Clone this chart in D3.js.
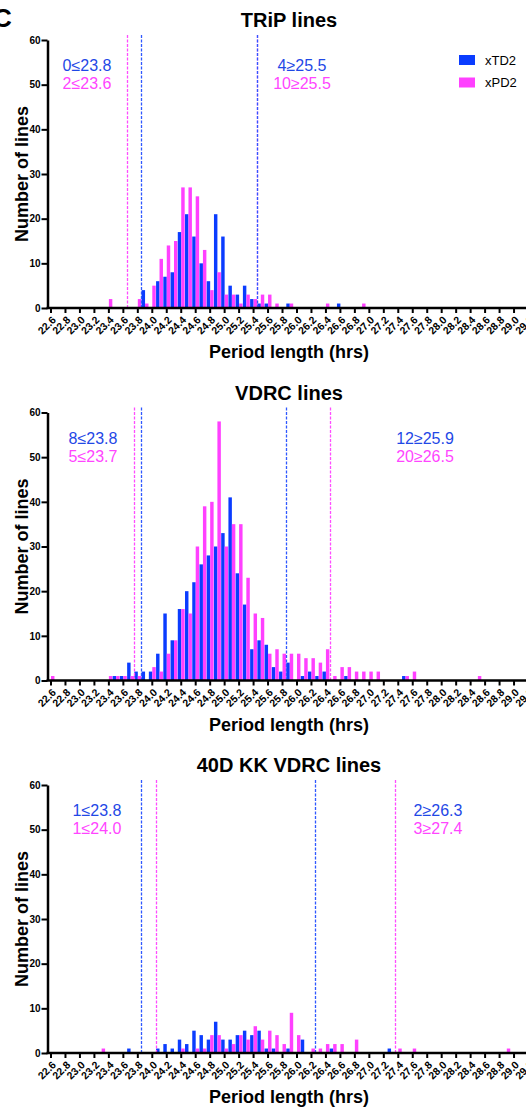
<!DOCTYPE html>
<html>
<head>
<meta charset="utf-8">
<script src="https://cdn.jsdelivr.net/npm/d3@7"></script>
<style>
  html, body { margin: 0; padding: 0; background: #fff; }
  svg { display: block; font-family: "Liberation Sans", Arial, Helvetica, sans-serif; }
</style>
</head>
<body>
<svg id="chart" width="526" height="1110"></svg>
<script>
// ---- DATA ----
const categories = ["22.6","22.7","22.8","22.9","23.0","23.1","23.2","23.3","23.4","23.5",
  "23.6","23.7","23.8","23.9","24.0","24.1","24.2","24.3","24.4","24.5",
  "24.6","24.7","24.8","24.9","25.0","25.1","25.2","25.3","25.4","25.5",
  "25.6","25.7","25.8","25.9","26.0","26.1","26.2","26.3","26.4","26.5",
  "26.6","26.7","26.8","26.9","27.0","27.1","27.2","27.3","27.4","27.5",
  "27.6","27.7","27.8","27.9","28.0","28.1","28.2","28.3","28.4","28.5",
  "28.6","28.7","28.8","28.9","29.0","29.1","29.2"];
const tickLabels = ["22.6","22.8","23.0","23.2","23.4","23.6","23.8","24.0","24.2","24.4",
  "24.6","24.8","25.0","25.2","25.4","25.6","25.8","26.0","26.2","26.4","26.6","26.8",
  "27.0","27.2","27.4","27.6","27.8","28.0","28.2","28.4","28.6","28.8","29.0","29.2"];
const yTicks = [0, 10, 20, 30, 40, 50, 60];
const seriesNames = ["xTD2", "xPD2"];
const panelTitles = ["TRiP lines", "VDRC lines", "40D KK VDRC lines"];

const tripTD2 = [0,0,0,0,0,0,0,0,0,0, 0,0,0,4,0,6,7,8,17,21, 16,10,6,21,16,5,3,5,2,1, 1,0,0,1,0,0,0,0,0,0, 1,0,0,0,0,0,0,0,0,0, 0,0,0,0,0,0,0,0,0,0, 0,0,0,0,0,0,0];
const tripPD2 = [0,0,0,0,0,0,0,0,2,0, 0,0,2,1,5,11,14,15,27,27, 25,13,4,8,3,3,1,3,2,3, 3,1,0,1,0,0,0,0,1,0, 0,0,0,1,0,0,0,0,0,0, 0,0,0,0,0,0,0,0,0,0, 0,0,0,0,0,0,0];
const vdrcTD2 = [0,0,0,0,0,0,0,0,0,1, 1,4,2,2,2,6,15,9,16,20, 22,26,28,30,33,41,24,17,7,9, 8,3,2,4,0,1,2,1,2,0, 0,1,0,0,0,0,0,0,0,1, 0,0,0,0,0,0,0,0,0,0, 0,0,0,0,0,0,0];
const vdrcPD2 = [1,0,0,0,0,0,0,0,1,1, 1,1,1,0,3,2,6,9,16,15, 30,39,40,58,30,35,35,23,15,14, 6,7,6,6,6,5,5,4,7,1, 3,3,2,2,2,2,0,0,0,1, 2,0,0,0,0,0,0,0,0,1, 0,0,0,0,0,0,0];
const kkTD2   = [0,0,0,0,0,0,0,0,0,0, 0,1,0,0,0,1,2,1,3,2, 5,4,3,7,3,3,4,5,4,5, 1,1,0,1,0,3,0,0,0,1, 0,0,0,0,0,0,0,1,0,0, 0,0,0,0,0,0,0,0,0,0, 0,0,0,0,0,0,0];
const kkPD2   = [0,0,0,0,0,0,0,1,0,0, 0,0,0,0,0,0,0,0,1,0, 1,1,4,4,1,2,4,3,6,3, 5,4,2,9,4,0,1,1,2,2, 2,0,3,0,0,0,0,0,1,0, 1,0,0,0,0,0,0,0,0,0, 0,0,0,1,0,0,0];

// cut-off line positions in hours: [xPD2 low, xTD2 low, xTD2 high, xPD2 high]
const tripCuts = [23.65, 23.85, 25.45, 25.45];
const vdrcCuts = [23.75, 23.85, 25.85, 26.45];
const kkCuts   = [24.05, 23.85, 26.25, 27.35];
const tripLabels = ["0≤23.8", "2≤23.6", "4≥25.5", "10≥25.5"];
const vdrcLabels = ["8≤23.8", "5≤23.7", "12≥25.9", "20≥26.5"];
const kkLabels   = ["1≤23.8", "1≤24.0", "2≥26.3", "3≥27.4"];

// ---- STYLE / LAYOUT ----
const BLUE = "#0a3cff", MAG = "#ff40ff";
const BLUE_TXT = "#1f48e6", MAG_TXT = "#ff45ff";
const BLUE_LINE = "#2f58ff", MAG_LINE = "#ff4dff";
const colors = { xTD2: BLUE, xPD2: MAG };

const panels = [
  { title: panelTitles[0], td: tripTD2, pd: tripPD2, cuts: tripCuts, labels: tripLabels, top: 40,    leftLX: 87,  rightLX: 302 },
  { title: panelTitles[1], td: vdrcTD2, pd: vdrcPD2, cuts: vdrcCuts, labels: vdrcLabels, top: 412.5, leftLX: 93,  rightLX: 425 },
  { title: panelTitles[2], td: kkTD2,   pd: kkPD2,   cuts: kkCuts,   labels: kkLabels,   top: 785,   leftLX: 97,  rightLX: 438 }
];
const plotH = 268;
const axisX = 47.5;
const firstCenter = 51, binW = 7.235;

const svg = d3.select("#chart");

// panel letter (partly outside the frame, as in the source figure)
svg.append("text").attr("x", -7).attr("y", 27)
  .attr("font-size", 26).attr("font-weight", "bold").text("C");

const x = d3.scaleBand().domain(categories)
  .range([firstCenter - binW / 2, firstCenter + (categories.length - 1) * binW + binW / 2])
  .padding(0);
const xs = d3.scaleBand().domain(seriesNames).range([0, x.bandwidth()]).paddingOuter(0.05).paddingInner(0);
const xl = d3.scaleLinear().domain([+categories[0], +categories[categories.length - 1]])
  .range([x(categories[0]) + x.bandwidth() / 2, x(categories[categories.length - 1]) + x.bandwidth() / 2]);

panels.forEach(p => {
  const y0 = p.top + plotH;
  const y = d3.scaleLinear().domain([0, 60]).range([y0, p.top]);
  const g = svg.append("g");

  g.append("text").attr("x", 289).attr("y", p.top - 13).attr("text-anchor", "middle")
    .attr("font-size", 20).attr("font-weight", "bold").text(p.title);

  const rows = categories.map((c, i) => ({ c, vals: [ { s: "xTD2", v: p.td[i] }, { s: "xPD2", v: p.pd[i] } ] }));
  const grp = g.append("g").selectAll("g").data(rows).join("g")
    .attr("transform", d => `translate(${x(d.c)},0)`);
  grp.selectAll("rect").data(d => d.vals.filter(v => v.v > 0)).join("rect")
    .attr("x", d => xs(d.s)).attr("width", xs.bandwidth())
    .attr("y", d => y(d.v)).attr("height", d => y0 - y(d.v))
    .attr("fill", d => colors[d.s]);

  const cutColors = [MAG_LINE, BLUE_LINE, BLUE_LINE, MAG_LINE];
  [0, 3, 1, 2].forEach(k => {
    const cx = Math.round(xl(p.cuts[k])) + 0.5;
    g.append("line")
      .attr("x1", cx).attr("x2", cx)
      .attr("y1", p.top - 5).attr("y2", y0)
      .attr("stroke", cutColors[k]).attr("stroke-width", 1.3)
      .attr("stroke-dasharray", "3,1.5");
  });

  const lab = [
    { t: p.labels[0], x: p.leftLX, dy: 31, c: BLUE_TXT },
    { t: p.labels[1], x: p.leftLX, dy: 49, c: MAG_TXT },
    { t: p.labels[2], x: p.rightLX, dy: 31, c: BLUE_TXT },
    { t: p.labels[3], x: p.rightLX, dy: 49, c: MAG_TXT }
  ];
  lab.forEach(l => {
    g.append("text").attr("x", l.x).attr("y", p.top + l.dy).attr("text-anchor", "middle")
      .attr("font-size", 16).attr("fill", l.c).text(l.t);
  });

  const ya = g.append("g").attr("transform", `translate(${axisX},0)`)
    .call(d3.axisLeft(y).tickValues(yTicks).tickSize(6).tickSizeOuter(0).tickPadding(1));
  ya.select(".domain").attr("stroke-width", 2.5);
  ya.selectAll(".tick line").attr("stroke-width", 2);
  ya.selectAll(".tick text").attr("font-size", 10).attr("font-weight", "bold")
    .attr("font-family", "Liberation Sans, Arial, sans-serif").attr("fill", "#000");

  const xa = g.append("g").attr("transform", `translate(0,${y0})`)
    .call(d3.axisBottom(x).tickValues(tickLabels).tickSize(5).tickSizeOuter(0));
  xa.select(".domain").attr("stroke-width", 2.5).attr("d", `M${axisX - 1},0H${x.range()[1] + 10}`);
  xa.selectAll(".tick line").attr("stroke-width", 2);
  xa.selectAll(".tick text")
    .attr("font-size", 10.5).attr("font-weight", "bold")
    .attr("font-family", "Liberation Sans, Arial, sans-serif").attr("fill", "#000")
    .attr("text-anchor", "end").attr("y", 0).attr("dy", "0.35em")
    .attr("transform", "translate(3,10) rotate(-45)");

  g.append("text").attr("transform", `translate(28,${p.top + plotH / 2}) rotate(-90)`)
    .attr("text-anchor", "middle").attr("font-size", 18).attr("font-weight", "bold")
    .text("Number of lines");
  g.append("text").attr("x", 289).attr("y", y0 + 50).attr("text-anchor", "middle")
    .attr("font-size", 18).attr("font-weight", "bold").text("Period length (hrs)");
});

const leg = svg.append("g");
seriesNames.forEach((s, i) => {
  leg.append("rect").attr("x", 459).attr("y", 55 + i * 22.5).attr("width", 16).attr("height", 10)
    .attr("fill", colors[s]);
  leg.append("text").attr("x", 485).attr("y", 64.5 + i * 22.5).attr("font-size", 13).text(s);
});
</script>
</body>
</html>
